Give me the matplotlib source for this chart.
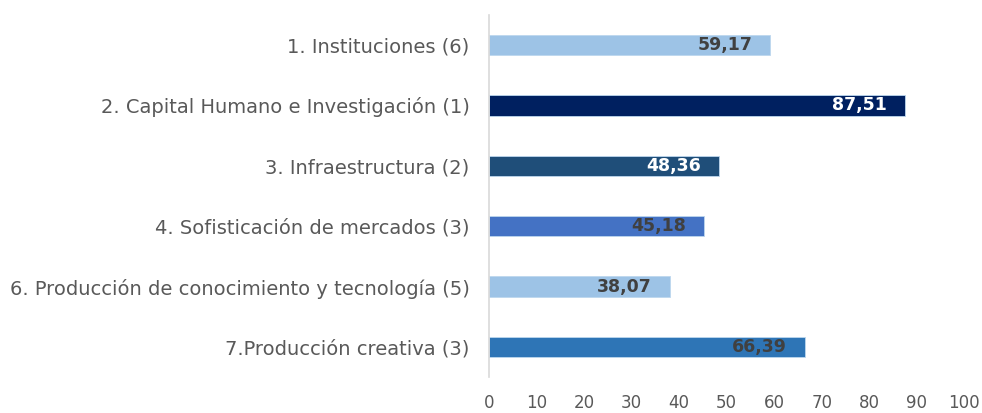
import matplotlib.pyplot as plt

# --- Data ---
categories = [
    "1. Instituciones (6)",
    "2. Capital Humano e Investigación (1)",
    "3. Infraestructura (2)",
    "4. Sofisticación de mercados (3)",
    "6. Producción de conocimiento y tecnología (5)",
    "7.Producción creativa (3)",
]
values = [59.17, 87.51, 48.36, 45.18, 38.07, 66.39]
bar_colors = ["#9DC3E6", "#002060", "#1F4E79", "#4472C4", "#9DC3E6", "#2E75B6"]
label_colors = ["#404040", "#FFFFFF", "#FFFFFF", "#404040", "#404040", "#404040"]
xticks = [0, 10, 20, 30, 40, 50, 60, 70, 80, 90, 100]

fig = plt.figure(figsize=(9.82, 4.13), dpi=100)
ax = fig.add_axes([0.498, 0.087, 0.484, 0.877])

y = list(range(len(categories)))
ax.barh(y, values, height=0.34, color=bar_colors, edgecolor="#BDD7EE", linewidth=0.6)

for yi, v, c in zip(y, values, label_colors):
    ax.annotate(f"{v:.2f}".replace(".", ","), xy=(v, yi), xytext=(-13, 0),
                textcoords="offset points", ha="right", va="center",
                fontsize=12.5, fontweight="bold", color=c)

ax.set_xlim(0, 100)
ax.set_ylim(len(categories) - 0.5, -0.5)
ax.set_yticks(y)
ax.set_yticklabels(categories, fontsize=14, color="#595959")
ax.set_xticks(xticks)
ax.set_xticklabels([str(t) for t in xticks], fontsize=12, color="#595959")
ax.tick_params(axis="both", length=0)
ax.tick_params(axis="y", pad=14)
ax.tick_params(axis="x", pad=12)

for s in ["top", "right", "bottom"]:
    ax.spines[s].set_visible(False)
ax.spines["left"].set_color("#D9D9D9")
ax.spines["left"].set_linewidth(1.2)

fig.savefig("out.png", dpi=100)
